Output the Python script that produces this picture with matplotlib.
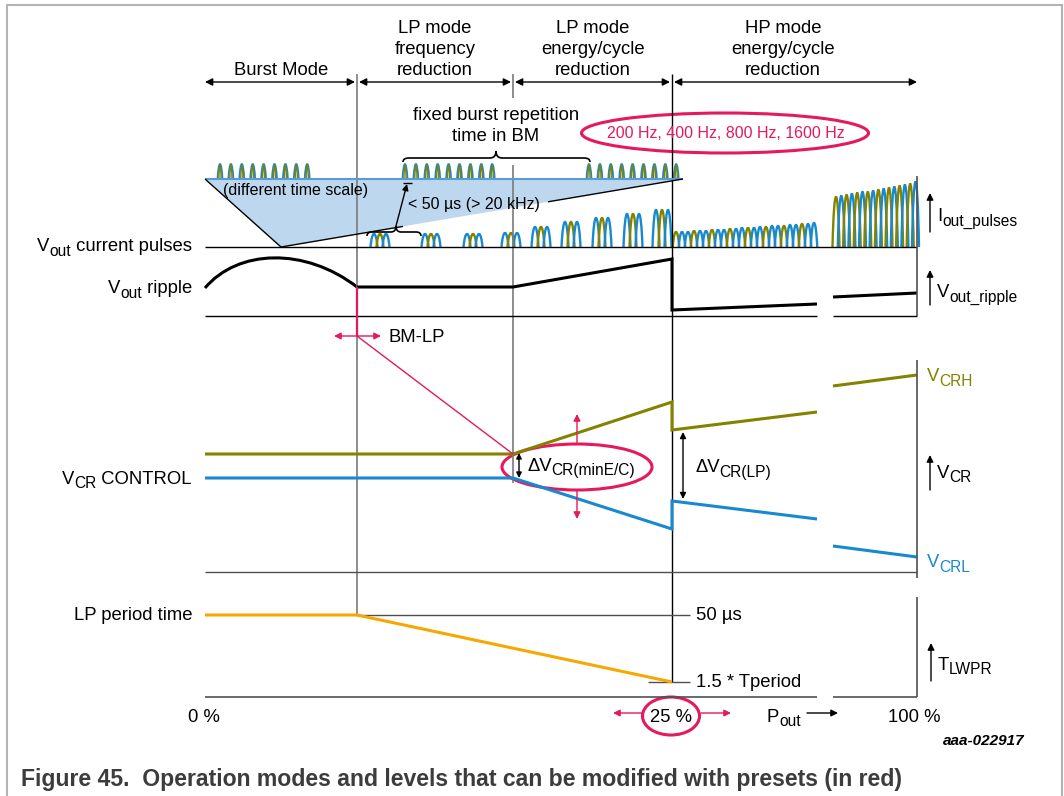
import matplotlib
matplotlib.use('Agg')
import matplotlib.pyplot as plt
from matplotlib.path import Path
from matplotlib.patches import PathPatch, Ellipse, Polygon

plt.rcParams['font.family'] = ['Liberation Sans', 'DejaVu Sans']

OLIVE = '#838300'
BLUE = '#1889cf'
PINK = '#e5195c'
ORANGE = '#f6a800'
GRAY = '#7a7a7a'
DARK = '#505050'
FS = 13.3
FS_SUB = 11.2
FS_S = 11.5
SUB_DROP = 4.5

# ---- values (pixel coordinates of the original) ----
mode_labels = ['Burst Mode', 'LP mode\nfrequency\nreduction',
               'LP mode\nenergy/cycle\nreduction', 'HP mode\nenergy/cycle\nreduction']
mode_edges = [205, 357, 513, 672, 917]
mode_label_x = [281, 435, 593, 783]

# burst packets on the "different time scale" strip
burst_starts = [220, 405, 589]
burst_pitch = 10.9
burst_count = 9

# LP mode pulse groups (centre, height)
lp_group_x = [380, 431, 473, 511, 541, 571, 602, 633, 662]
lp_group_h = [13, 13, 13, 14, 20, 25, 29, 33, 37]

# HP mode pulses
hp_low_h = [15, 15, 15, 16, 16, 16, 17, 17, 17, 18, 18, 19,
            19, 19, 20, 20, 21, 21, 21, 22, 22, 23, 23, 24]
hp_high_h = [50, 51, 52, 53, 54, 55, 55, 56, 57, 58, 59, 60, 61, 62, 63, 65]

# Vout ripple
ripple_x1 = [357, 513, 672, 672, 817]
ripple_y1 = [287, 287, 259, 310, 304]
ripple_x2 = [833, 917]
ripple_y2 = [297, 293]

# VCR control levels
vcrh_x1 = [205, 513, 672, 672, 817]
vcrh_y1 = [454, 454, 402, 430, 412]
vcrh_x2 = [833, 917]
vcrh_y2 = [386, 375]
vcrl_x1 = [205, 513, 672, 672, 817]
vcrl_y1 = [478, 478, 529, 501, 519]
vcrl_x2 = [833, 917]
vcrl_y2 = [546, 557]

# LP period time
lp_period_x = [205, 357, 672]
lp_period_y = [615, 615, 682]

fig = plt.figure(figsize=(10.64, 7.96), dpi=100)
ax = fig.add_axes([0, 0, 1, 1])
ax.set_xlim(0, 1064)
ax.set_ylim(796, 0)
ax.axis('off')
renderer = fig.canvas.get_renderer()


def line(xs, ys, color='k', lw=1.0, **kw):
    ax.plot(xs, ys, color=color, lw=lw, solid_capstyle='butt', solid_joinstyle='miter', **kw)


def arrow(x0, y0, x1, y1, color='k', style='-|>', ms=10, lw=1.0):
    ax.annotate('', xy=(x1, y1), xytext=(x0, y0),
                arrowprops=dict(arrowstyle=style, color=color, lw=lw,
                                mutation_scale=ms, shrinkA=0, shrinkB=0))


def hump(c, w, h, base, color, lw=1.7):
    a = 0.22 * w
    verts = [(c - w / 2, base), (c - w / 2 + a, base - h * 4 / 3),
             (c + w / 2 - a, base - h * 4 / 3), (c + w / 2, base)]
    codes = [Path.MOVETO, Path.CURVE4, Path.CURVE4, Path.CURVE4]
    ax.add_patch(PathPatch(Path(verts, codes), fill=False, edgecolor=color, lw=lw))


def brace(x0, x1, xm, y_end, y_main, y_tip, q=6, lw=1.2):
    verts = [(x0, y_end), (x0, y_main), (x0 + q, y_main),
             (xm - q, y_main), (xm, y_main), (xm, y_tip),
             (xm, y_main), (xm + q, y_main),
             (x1 - q, y_main), (x1, y_main), (x1, y_end)]
    codes = [Path.MOVETO, Path.CURVE3, Path.CURVE3,
             Path.LINETO, Path.CURVE3, Path.CURVE3,
             Path.CURVE3, Path.CURVE3,
             Path.LINETO, Path.CURVE3, Path.CURVE3]
    ax.add_patch(PathPatch(Path(verts, codes), fill=False, edgecolor='k', lw=lw))


def rich(x, y, parts, ha='left', color='k'):
    # parts: (text, is_subscript); y is the baseline of the main text
    items = []
    for s, sub in parts:
        t = ax.text(0, 0, s, fontsize=FS_SUB if sub else FS, color=color,
                    ha='left', va='baseline')
        items.append((t, t.get_window_extent(renderer).width, sub))
    total = sum(w for _, w, _ in items)
    x0 = x - total if ha == 'right' else x
    for t, w, sub in items:
        t.set_position((x0, y + (SUB_DROP if sub else 0)))
        x0 += w


# outer frame
line([7, 7, 1062, 1062], [796, 5, 5, 796], color='#b4b4b4', lw=1.5)

# mode headers and arrows
for lab, x in zip(mode_labels, mode_label_x):
    ax.text(x, 79, lab, ha='center', va='bottom', fontsize=FS, linespacing=1.32)
for i in range(4):
    x0 = mode_edges[i] + (2 if i > 0 else 0)
    x1 = mode_edges[i + 1] - (2 if i < 3 else 0)
    arrow(x0, 82, x1, 82, style='<|-|>', ms=11, lw=1.0)

# vertical phase boundaries
line([357, 357], [74, 615], color=GRAY, lw=1.2)
line([513, 513], [74, 98], color=GRAY, lw=1.2)
line([513, 513], [165, 483], color=GRAY, lw=1.2)
line([672, 672], [74, 682], color='k', lw=1.0)

# burst strip (different time scale)
ax.add_patch(Polygon([(205, 179), (683, 179), (281, 247)], closed=True,
                     facecolor='#bdd7ee', edgecolor='none'))
line([205, 683], [179, 179], color='#5b9bd5', lw=1.5)
line([205, 281], [179, 247], lw=1.0)
line([281, 403], [247, 226.4], lw=1.0)
line([548, 683], [201.8, 179], lw=1.0)
for s in burst_starts:
    for i in range(burst_count):
        c = s + i * burst_pitch
        hump(c, 5, 15, 179, BLUE, lw=1.3)
        hump(c, 2.2, 14, 179, OLIVE, lw=1.0)
ax.text(296, 191, '(different time scale)', ha='center', va='center', fontsize=FS_S)
ax.text(474, 205, '< 50 µs (> 20 kHz)', ha='center', va='center', fontsize=FS_S)
brace(403, 590, 496, 162, 158, 151)
ax.text(496, 145, 'fixed burst repetition\ntime in BM', ha='center', va='bottom',
        fontsize=FS, linespacing=1.32)
brace(367, 421, 396, 236, 232, 226, q=5)
arrow(396, 226, 407, 184, ms=9)
line([403, 412], [182.5, 182.5], lw=1.0)

# current pulses
line([205, 917], [247, 247], lw=1.0)
for c, h in zip(lp_group_x, lp_group_h):
    hump(c - 6, 7, h, 247, BLUE)
    hump(c, 7, h, 247, OLIVE)
    hump(c + 6, 7, h, 247, BLUE)
for i, h in enumerate(hp_low_h):
    hump(676 + i * 6, 6.5, h, 247, OLIVE if i % 3 == 0 else BLUE)
for i, h in enumerate(hp_high_h):
    hump(836 + i * 5.3, 7, h, 247, OLIVE if i % 2 == 0 else BLUE)

# ripple
rp = Path([(205, 288), (238, 249), (305, 247), (357, 287)],
          [Path.MOVETO, Path.CURVE4, Path.CURVE4, Path.CURVE4])
ax.add_patch(PathPatch(rp, fill=False, edgecolor='k', lw=2.2))
line(ripple_x1, ripple_y1, lw=2.2)
line(ripple_x2, ripple_y2, lw=2.2)
line([205, 817], [316, 316], lw=1.0)
line([833, 917], [316, 316], lw=1.0)
line([917, 917], [176, 316], color=DARK, lw=1.2)

# VCR control
line(vcrh_x1, vcrh_y1, color=OLIVE, lw=2.2)
line(vcrh_x2, vcrh_y2, color=OLIVE, lw=2.2)
line(vcrl_x1, vcrl_y1, color=BLUE, lw=2.2)
line(vcrl_x2, vcrl_y2, color=BLUE, lw=2.2)
line([205, 917], [572, 572], color=DARK, lw=1.0)
line([917, 917], [360, 578], color=DARK, lw=1.2)

# LP period time
line([357, 690], [615, 615], color=DARK, lw=1.0)
line([648, 690], [682, 682], color=DARK, lw=1.0)
line(lp_period_x, lp_period_y, color=ORANGE, lw=2.2)
line([205, 817], [697, 697], color=DARK, lw=1.2)
line([833, 917], [697, 697], color=DARK, lw=1.2)
line([917, 917], [597, 697], color=DARK, lw=1.2)

# presets in red
line([357, 357], [287, 336], color=PINK, lw=1.6)
line([357, 513], [336, 454], color=PINK, lw=1.0)
arrow(357, 336, 334, 336, color=PINK, ms=10)
arrow(357, 336, 381, 336, color=PINK, ms=10)
ax.text(388, 337, 'BM-LP', ha='left', va='center', fontsize=FS)
ax.add_patch(Ellipse((725, 133), 287, 40, fill=False, edgecolor=PINK, lw=2.2))
ax.text(726, 134, '200 Hz, 400 Hz, 800 Hz, 1600 Hz', ha='center', va='center',
        fontsize=FS_S, color=PINK)
ax.add_patch(Ellipse((577, 467), 150, 46, fill=False, edgecolor=PINK, lw=2.2))
arrow(577, 443, 577, 414, color=PINK, ms=10)
arrow(577, 491, 577, 519, color=PINK, ms=10)
ax.add_patch(Ellipse((671, 716), 57, 38, fill=False, edgecolor=PINK, lw=2.2))
arrow(642, 713, 613, 713, color=PINK, ms=10)
arrow(701, 713, 731, 713, color=PINK, ms=10)

# delta arrows
arrow(519, 453, 519, 478, style='<|-|>', ms=8)
rich(527, 471, [('ΔV', False), ('CR(minE/C)', True)])
arrow(683, 432, 683, 499, style='<|-|>', ms=9)
rich(695, 472, [('ΔV', False), ('CR(LP)', True)])

# left labels
rich(192, 251, [('V', False), ('out', True), (' current pulses', False)], ha='right')
rich(192, 293, [('V', False), ('out', True), (' ripple', False)], ha='right')
rich(192, 484, [('V', False), ('CR', True), (' CONTROL', False)], ha='right')
ax.text(192, 620, 'LP period time', ha='right', va='baseline', fontsize=FS)

# right labels
arrow(930, 232, 930, 193, ms=10)
rich(937, 221, [('I', False), ('out_pulses', True)])
arrow(930, 305, 930, 270, ms=10)
rich(937, 297, [('V', False), ('out_ripple', True)])
arrow(930, 490, 930, 455, ms=10)
rich(937, 478, [('V', False), ('CR', True)])
arrow(931, 681, 931, 643, ms=10)
rich(938, 670, [('T', False), ('LWPR', True)])
rich(927, 381, [('V', False), ('CRH', True)], color=OLIVE)
rich(927, 567, [('V', False), ('CRL', True)], color=BLUE)
ax.text(696, 620, '50 µs', ha='left', va='baseline', fontsize=FS)
ax.text(696, 687, '1.5 * Tperiod', ha='left', va='baseline', fontsize=FS)

# x axis labels
ax.text(204, 722, '0 %', ha='center', va='baseline', fontsize=FS)
ax.text(671, 722, '25 %', ha='center', va='baseline', fontsize=FS)
ax.text(914, 722, '100 %', ha='center', va='baseline', fontsize=FS)
rich(767, 722, [('P', False), ('out', True)])
arrow(807, 713, 838, 713, ms=10)
ax.text(1025, 741, 'aaa-022917', ha='right', va='center', fontsize=11,
        style='italic', fontweight='bold')

ax.text(21, 786, 'Figure 45.  Operation modes and levels that can be modified with presets (in red)',
        ha='left', va='baseline', fontsize=16.6, fontweight='bold', color='#3c3c3c')

fig.savefig('out.png', dpi=100)
